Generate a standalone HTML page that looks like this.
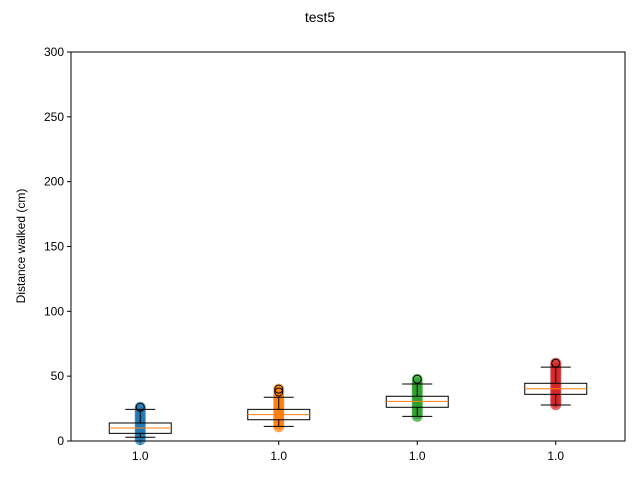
<!DOCTYPE html>
<html><head><meta charset="utf-8"><style>
body{margin:0;background:#fff;}
svg{font-family:"Liberation Sans","DejaVu Sans",sans-serif;}
</style></head><body>
<svg id="chart" width="640" height="480">
<text x="320" y="22" font-size="14" text-anchor="middle">test5</text>
<text transform="translate(25,246) rotate(-90)" font-size="12" text-anchor="middle">Distance walked (cm)</text>
<g id="marks"></g>
<rect x="71" y="52" width="554" height="389" fill="none" stroke="#000" stroke-width="1"/>
</svg>
<script>
const categories=["1.0","1.0","1.0","1.0"];
const colors=["#1f77b4","#ff7f0e","#2ca02c","#d62728"];
const yTicks=[0,50,100,150,200,250,300];
const whiskerLow=[2.9,11.3,19,27.8];
const q1=[5.9,16.4,26,36];
const median=[10,20.3,30.6,40.3];
const q3=[13.9,24.4,34.5,44.5];
const whiskerHigh=[24.4,33.7,44,57];
const outliers=[[26],[37.8,40],[47.6],[60]];
const scatter0=[1,3,5,7,9,11,13,15,17,19,21,23,25,26];
const scatter1=[11,13,15,17,19,21,23,25,27,29,31,33,35,37.8,40];
const scatter2=[19,21,23,25,27,29,31,33,35,37,39,41,43,45,47.6];
const scatter3=[28,30,32,34,36,38,40,42,44,46,48,50,52,54,56,58,60];
const scatterSets=[scatter0,scatter1,scatter2,scatter3];

const NS="http://www.w3.org/2000/svg";
const L=71,R=625,T=52,B=441;
const y=v=>B-(v-0)/(300-0)*(B-T);
const x=i=>L+(R-L)*(i+0.5)/categories.length;
const svg=document.getElementById('chart');
const g=document.getElementById('marks');
function mk(tag,attrs,parent){const e=document.createElementNS(NS,tag);for(const k in attrs)e.setAttribute(k,attrs[k]);(parent||g).appendChild(e);return e;}

yTicks.forEach(t=>{
  const l=mk('line',{x1:L-4,x2:L,y1:y(t),y2:y(t),stroke:'#000'});
  
  
  const tx=mk('text',{x:L-7,y:y(t)+4,'font-size':12,'text-anchor':'end'});
  tx.textContent=t;
  
  
});
categories.forEach((c,i)=>{
  const cx=x(i);
  const l=mk('line',{x1:cx,x2:cx,y1:B,y2:B+4,stroke:'#000'});
  
  
  const tx=mk('text',{x:cx,y:B+19,'font-size':12,'text-anchor':'middle'});
  tx.textContent=c;
  
  
  scatterSets[i].forEach(v=>{
    const p=mk('circle',{cx:cx,cy:y(v),r:5.5,fill:colors[i],'fill-opacity':0.7});
    
    
  });
  const w=31,cap=15;
  const wl=mk('line',{x1:cx,x2:cx,y1:y(whiskerLow[i]),y2:y(q1[i]),stroke:'#000'});
  
  
  const wh=mk('line',{x1:cx,x2:cx,y1:y(q3[i]),y2:y(whiskerHigh[i]),stroke:'#000'});
  
  
  const c1=mk('line',{x1:cx-cap,x2:cx+cap,y1:y(whiskerLow[i]),y2:y(whiskerLow[i]),stroke:'#000'});
  
  
  const c2=mk('line',{x1:cx-cap,x2:cx+cap,y1:y(whiskerHigh[i]),y2:y(whiskerHigh[i]),stroke:'#000'});
  
  
  const bx=mk('rect',{x:cx-w,y:y(q3[i]),width:2*w,height:y(q1[i])-y(q3[i]),fill:'none',stroke:'#000'});
  
  
  const md=mk('line',{x1:cx-w,x2:cx+w,y1:y(median[i]),y2:y(median[i]),stroke:'#ff7f0e'});
  
  
  outliers[i].forEach(v=>{
    const o=mk('circle',{cx:cx,cy:y(v),r:4,fill:'none',stroke:'#000'});
    
    
  });
});
</script>
</body></html>
